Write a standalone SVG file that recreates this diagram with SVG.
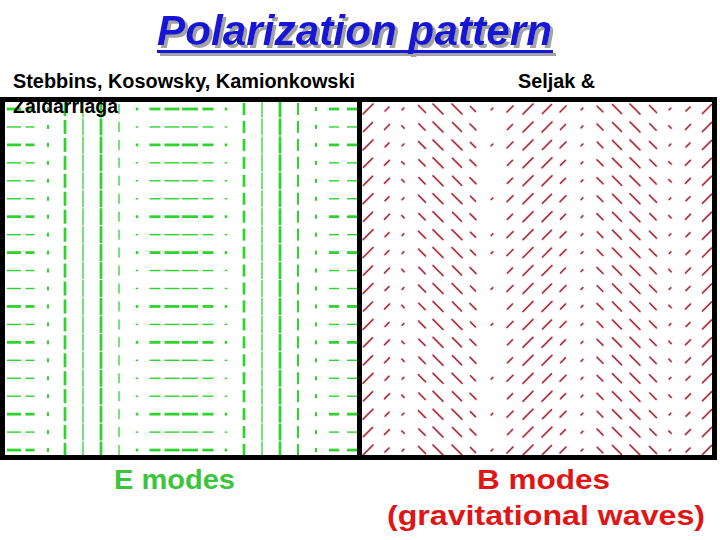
<svg xmlns="http://www.w3.org/2000/svg" width="720" height="540" viewBox="0 0 720 540">
<style>
text{font-family:"Liberation Sans",Arial,sans-serif;font-weight:bold}
.lbl{font-size:20px;fill:#000}
.cap{font-size:27px}
.e{stroke:#2fd22f;fill:none}
.thick{stroke-width:2.8}
.thin{stroke-width:1.4}
.vk{stroke-width:2.7}
.vt{stroke-width:1.3}
.vm{stroke-width:2.1}
.bh{stroke:#f8dade;stroke-width:3;stroke-linecap:round}
.bd{stroke:#a02535;stroke-width:1.35;stroke-linecap:round}
.frame{fill:none;stroke:#000;stroke-width:5}
</style>
<defs>
<filter id="shadow" x="-5%" y="-20%" width="112%" height="150%">
<feOffset in="SourceAlpha" dx="3" dy="3" result="o"/>
<feFlood flood-color="#a3a3a3"/>
<feComposite in2="o" operator="in" result="s"/>
<feMerge><feMergeNode in="s"/><feMergeNode in="SourceGraphic"/></feMerge>
</filter>
<g id="er">
<line x1="7" y1="0" x2="21" y2="0"/>
<line x1="25.5" y1="0" x2="34.5" y2="0"/>
<line x1="135.7" y1="0" x2="138.3" y2="0"/>
<line x1="149.5" y1="0" x2="160.5" y2="0"/>
<line x1="164.5" y1="0" x2="179.5" y2="0"/>
<line x1="182" y1="0" x2="198" y2="0"/>
<line x1="202.5" y1="0" x2="213.5" y2="0"/>
<line x1="224.7" y1="0" x2="227.3" y2="0"/>
<line x1="329" y1="0" x2="339" y2="0"/>
<line x1="347" y1="0" x2="357" y2="0"/>
<line class="vm" x1="48" y1="-2" x2="48" y2="2"/>
<line class="vk" x1="65" y1="-7" x2="65" y2="7"/>
<line class="vt" x1="83" y1="-8.5" x2="83" y2="8.5"/>
<line class="vk" x1="101" y1="-8.5" x2="101" y2="8.5"/>
<line class="vt" x1="119" y1="-5" x2="119" y2="5"/>
<line class="vk" x1="244" y1="-6" x2="244" y2="6"/>
<line class="vt" x1="262" y1="-8.5" x2="262" y2="8.5"/>
<line class="vk" x1="280" y1="-8.5" x2="280" y2="8.5"/>
<line class="vm" x1="298" y1="-6" x2="298" y2="6"/>
<line class="vm" x1="316" y1="-2" x2="316" y2="2"/>
</g>
<g id="brA">
<line x1="363" y1="5" x2="373" y2="-5"/>
<line x1="385" y1="2" x2="389" y2="-2"/>
<line x1="402.1" y1="0.9" x2="403.9" y2="-0.9"/>
<line x1="418.5" y1="-3.5" x2="425.5" y2="3.5"/>
<line x1="433" y1="-5" x2="443" y2="5"/>
<line x1="452" y1="-5" x2="462" y2="5"/>
<line x1="470.5" y1="-2.5" x2="475.5" y2="2.5"/>
<line x1="491.2" y1="0.8" x2="492.8" y2="-0.8"/>
<line x1="507" y1="3" x2="513" y2="-3"/>
<line x1="523" y1="5" x2="533" y2="-5"/>
<line x1="542.5" y1="4.5" x2="551.5" y2="-4.5"/>
<line x1="560" y1="3" x2="566" y2="-3"/>
<line x1="581.1" y1="0.9" x2="582.9" y2="-0.9"/>
<line x1="597.2" y1="-2.8" x2="602.8" y2="2.8"/>
<line x1="612.5" y1="-4.5" x2="621.5" y2="4.5"/>
<line x1="630" y1="-5" x2="640" y2="5"/>
<line x1="649.5" y1="-3.5" x2="656.5" y2="3.5"/>
<line x1="669.2" y1="0.8" x2="670.8" y2="-0.8"/>
<line x1="686" y1="2" x2="690" y2="-2"/>
<line x1="702.5" y1="4.5" x2="711.5" y2="-4.5"/>
</g>
<g id="brB">
<line x1="363.5" y1="4.5" x2="372.5" y2="-4.5"/>
<line x1="384.5" y1="2.5" x2="389.5" y2="-2.5"/>
<line x1="401.8" y1="-1.2" x2="404.2" y2="1.2"/>
<line x1="418.8" y1="-3.2" x2="425.2" y2="3.2"/>
<line x1="433" y1="-5" x2="443" y2="5"/>
<line x1="452.5" y1="-4.5" x2="461.5" y2="4.5"/>
<line x1="470" y1="-3" x2="476" y2="3"/>
<line x1="507.5" y1="2.5" x2="512.5" y2="-2.5"/>
<line x1="523" y1="5" x2="533" y2="-5"/>
<line x1="542" y1="5" x2="552" y2="-5"/>
<line x1="560.5" y1="2.5" x2="565.5" y2="-2.5"/>
<line x1="581.1" y1="0.9" x2="582.9" y2="-0.9"/>
<line x1="597" y1="-3" x2="603" y2="3"/>
<line x1="612.5" y1="-4.5" x2="621.5" y2="4.5"/>
<line x1="630" y1="-5" x2="640" y2="5"/>
<line x1="649.8" y1="-3.2" x2="656.2" y2="3.2"/>
<line x1="668.8" y1="-1.2" x2="671.2" y2="1.2"/>
<line x1="685.5" y1="2.5" x2="690.5" y2="-2.5"/>
<line x1="702.5" y1="4.5" x2="711.5" y2="-4.5"/>
</g>
</defs>
<rect width="720" height="540" fill="#fff"/>
<g id="title" filter="url(#shadow)" fill="#1515d4">
<text x="157" y="45" font-size="43" font-style="italic" textLength="395" lengthAdjust="spacingAndGlyphs">Polarization pattern</text>
<rect x="157" y="50" width="396" height="3"/>
</g>
<g id="e-modes-field" class="e">
<use href="#er" y="109" class="thick"/>
<use href="#er" y="126.95" class="thin"/>
<use href="#er" y="144.9" class="thick"/>
<use href="#er" y="162.85" class="thin"/>
<use href="#er" y="180.8" class="thin"/>
<use href="#er" y="198.75" class="thin"/>
<use href="#er" y="216.7" class="thick"/>
<use href="#er" y="234.65" class="thin"/>
<use href="#er" y="252.6" class="thick"/>
<use href="#er" y="270.55" class="thin"/>
<use href="#er" y="288.5" class="thin"/>
<use href="#er" y="306.45" class="thick"/>
<use href="#er" y="324.4" class="thin"/>
<use href="#er" y="342.35" class="thick"/>
<use href="#er" y="360.3" class="thin"/>
<use href="#er" y="378.25" class="thin"/>
<use href="#er" y="396.2" class="thin"/>
<use href="#er" y="414.15" class="thick"/>
<use href="#er" y="432.1" class="thin"/>
<use href="#er" y="450.05" class="thick"/>
</g>
<g id="b-modes-halo" class="bh">
<use href="#brA" y="109"/><use href="#brB" y="126.95"/><use href="#brA" y="144.9"/><use href="#brB" y="162.85"/>
<use href="#brB" y="180.8"/><use href="#brA" y="198.75"/><use href="#brB" y="216.7"/><use href="#brA" y="234.65"/>
<use href="#brA" y="252.6"/><use href="#brB" y="270.55"/><use href="#brA" y="288.5"/><use href="#brB" y="306.45"/>
<use href="#brA" y="324.4"/><use href="#brB" y="342.35"/><use href="#brB" y="360.3"/><use href="#brA" y="378.25"/>
<use href="#brB" y="396.2"/><use href="#brA" y="414.15"/><use href="#brB" y="432.1"/><use href="#brA" y="450.05"/>
</g>
<g id="b-modes-field" class="bd">
<use href="#brA" y="109"/><use href="#brB" y="126.95"/><use href="#brA" y="144.9"/><use href="#brB" y="162.85"/>
<use href="#brB" y="180.8"/><use href="#brA" y="198.75"/><use href="#brB" y="216.7"/><use href="#brA" y="234.65"/>
<use href="#brA" y="252.6"/><use href="#brB" y="270.55"/><use href="#brA" y="288.5"/><use href="#brB" y="306.45"/>
<use href="#brA" y="324.4"/><use href="#brB" y="342.35"/><use href="#brB" y="360.3"/><use href="#brA" y="378.25"/>
<use href="#brB" y="396.2"/><use href="#brA" y="414.15"/><use href="#brB" y="432.1"/><use href="#brA" y="450.05"/>
</g>
<g id="frames">
<rect class="frame" x="2.5" y="99.5" width="357" height="358"/>
<rect class="frame" x="359.5" y="99.5" width="355" height="358"/>
</g>
<g id="labels">
<text class="lbl" x="13" y="88" textLength="342" lengthAdjust="spacingAndGlyphs">Stebbins, Kosowsky, Kamionkowski</text>
<text class="lbl" x="13" y="112.5" textLength="105" lengthAdjust="spacingAndGlyphs">Zaldarriaga</text>
<text class="lbl" x="518" y="87.5" textLength="77" lengthAdjust="spacingAndGlyphs">Seljak &amp;</text>
<text class="cap" x="114" y="489" fill="#3cc53c" textLength="121" lengthAdjust="spacingAndGlyphs">E modes</text>
<text class="cap" x="477" y="489" fill="#e01515" textLength="133" lengthAdjust="spacingAndGlyphs">B modes</text>
<text class="cap" x="387" y="525" fill="#e01515" textLength="318" lengthAdjust="spacingAndGlyphs">(gravitational waves)</text>
</g>
</svg>
